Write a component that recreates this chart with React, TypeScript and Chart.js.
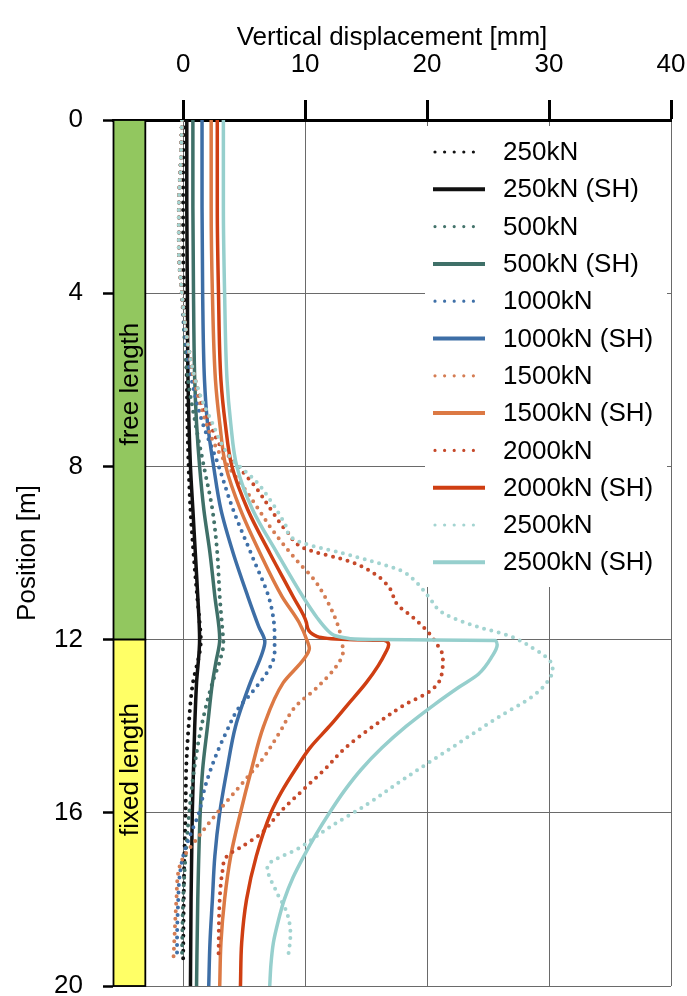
import React, { useEffect, useRef } from 'react';
import { Chart, registerables } from 'chart.js';

Chart.register(...registerables);

// ---- axis text / ticks ----
const X_TICKS = [0, 10, 20, 30, 40];
const Y_TICKS = [0, 4, 8, 12, 16, 20];
const X_TITLE = 'Vertical displacement [mm]';
const Y_TITLE = 'Position [m]';

// ---- zones along the anchor ----
const ZONE_LABELS = ['free length', 'fixed length'];
const ZONE_FROM = [0, 12];
const ZONE_TO = [12, 20];
const ZONE_TEXT_AT = [6.1, 15.0];
const ZONE_COLORS = ['#92c75f', '#ffff66'];

// ---- series: [position m, displacement mm] ----
const M250: [number, number][] = [[0,0.1],[1,0.0],[2,0.0],[3,0.0],[4,0.1],[5,0.2],[6,0.3],[7,0.35],[8,0.45],[9,0.6],[10,0.85],[11,1.15],[11.6,1.35],[12,1.45],[12.3,1.35],[13,0.8],[14,0.45],[15,0.25],[16,0.2],[17,0.1],[18,0.05],[19.4,0.0]];
const SH250: [number, number][] = [[0,0.3],[2,0.3],[4,0.35],[6,0.4],[8,0.6],[9,0.8],[10,1.0],[11,1.2],[12,1.35],[13,1.1],[14,0.95],[15,0.85],[16,0.75],[18,0.65],[20,0.6]];
const M500: [number, number][] = [[0,-0.1],[1,-0.2],[2,-0.35],[3,-0.35],[4,-0.1],[5,0.1],[6,0.4],[7,1.0],[8,1.7],[9,2.4],[10,2.8],[11,3.0],[11.7,3.2],[12.1,3.3],[12.5,3.0],[13,2.4],[14,1.5],[15,0.9],[16,0.5],[17,0.2],[18,0.0],[19.4,-0.1]];
const SH500: [number, number][] = [[0,0.8],[2,0.8],[4,0.85],[6,0.95],[7,1.1],[8,1.35],[9,1.7],[10,2.2],[11,2.6],[12,3.0],[12.5,2.7],[13,2.4],[14,2.0],[15,1.6],[16,1.4],[18,1.2],[20,1.1]];
const M1000: [number, number][] = [[0,-0.1],[1,-0.2],[2,-0.35],[3,-0.35],[4,-0.1],[5,0.2],[6,0.7],[7,1.6],[7.9,2.8],[9,4.1],[10.1,5.7],[11.1,7.1],[11.9,7.5],[12.3,7.5],[12.7,7.0],[13.2,5.7],[13.6,4.5],[14.1,3.6],[14.6,2.8],[15.4,1.8],[16,1.3],[16.5,0.6],[17,0.0],[17.5,-0.3],[18,-0.4],[19,-0.5],[19.4,-0.5]];
const SH1000: [number, number][] = [[0,1.55],[2,1.55],[4,1.6],[6,1.75],[7,2.0],[8,2.5],[9,3.1],[10,4.1],[11,5.3],[11.7,6.2],[12.05,6.7],[12.3,6.5],[13,5.5],[14,4.3],[15,3.6],[16,3.0],[17,2.6],[18,2.4],[19,2.2],[20,2.1]];
const M1500: [number, number][] = [[0,-0.1],[1,-0.2],[2,-0.35],[3,-0.35],[4,-0.1],[5,0.3],[6,0.9],[7,1.9],[7.5,2.6],[8,3.7],[8.5,5.0],[9,6.2],[9.5,7.4],[10.2,9.4],[10.6,10.7],[11.1,11.8],[11.6,12.6],[12,13.0],[12.3,13.1],[12.6,12.6],[13.1,11.0],[13.55,9.2],[14.15,7.9],[14.8,6.4],[15.2,5.2],[15.6,4.0],[16,2.8],[16.5,1.4],[17.2,-0.25],[18,-0.55],[19.4,-0.8]];
const SH1500: [number, number][] = [[0,2.3],[2,2.3],[4,2.4],[6,2.65],[7,3.0],[8,3.5],[9,4.7],[10,6.3],[11,8.1],[11.6,9.5],[12.05,10.2],[12.2,10.35],[12.45,9.9],[13,8.2],[14,6.6],[15,5.6],[16,4.7],[17,3.9],[18,3.4],[19,3.1],[20,3.0]];
const M2000: [number, number][] = [[0,-0.1],[1,-0.2],[2,-0.35],[3,-0.35],[4,-0.1],[5,0.3],[6,1.0],[6.5,1.5],[7,2.2],[7.5,3.0],[8,4.5],[8.5,6.0],[9,7.2],[9.5,8.5],[9.9,10.0],[10.2,13.7],[10.5,15.8],[10.8,16.9],[11.2,17.6],[11.5,18.9],[11.8,20.0],[12.1,20.8],[12.4,21.3],[12.9,21.1],[13.2,20.2],[13.5,18.2],[14,15.6],[14.5,13.3],[15,11.6],[15.4,10.1],[16,7.9],[16.5,6.3],[16.8,4.7],[17,3.6],[17.4,3.2],[18,3.0],[19.3,2.9]];
const SH2000: [number, number][] = [[0,2.8],[2,2.8],[4,2.9],[6,3.1],[7,3.45],[8,4.0],[9,5.3],[10,7.1],[11,9.0],[11.6,10.1],[11.93,11.0],[12.0,13.5],[12.02,16.5],[12.12,16.85],[12.3,16.6],[12.6,16.0],[13,15.0],[13.5,13.5],[14,12.0],[14.5,10.4],[15,9.2],[15.5,8.1],[16,7.2],[17,6.0],[18,5.2],[19,4.8],[20,4.7]];
const M2500: [number, number][] = [[0,-0.1],[1,-0.2],[2,-0.35],[3,-0.35],[4,-0.1],[5,0.3],[6,1.0],[6.5,1.6],[7,2.4],[7.5,3.2],[7.8,3.9],[8.35,6.0],[8.8,7.2],[9.3,8.3],[9.7,9.2],[9.85,10.8],[10.0,13.0],[10.2,15.6],[10.4,17.8],[10.7,19.2],[11.0,20.1],[11.4,21.4],[11.7,24.1],[11.9,26.6],[12.2,28.7],[12.5,30.1],[12.7,30.3],[13.0,29.8],[13.3,28.7],[13.8,25.8],[14.5,22.0],[15.2,18.2],[15.8,15.1],[16.3,12.2],[16.8,9.6],[17.25,6.9],[17.85,7.7],[18.3,8.5],[18.8,8.8],[19.35,8.6]];
const SH2500: [number, number][] = [[0,3.3],[2,3.3],[4,3.4],[6,3.6],[7,3.9],[8,4.4],[9,5.7],[10,7.7],[11,9.8],[11.5,11.0],[11.8,11.9],[11.97,13.5],[12.0,16.0],[12.02,25.6],[12.12,25.75],[12.4,25.3],[12.8,24.2],[13.1,22.6],[13.5,20.6],[14,18.3],[14.5,16.3],[15,14.6],[15.5,13.2],[16,12.0],[16.5,10.9],[17,9.9],[17.5,9.0],[18,8.3],[18.5,7.8],[19,7.4],[19.5,7.2],[20,7.1]];

const SERIES_LABELS = ['250kN', '250kN (SH)', '500kN', '500kN (SH)', '1000kN', '1000kN (SH)', '1500kN', '1500kN (SH)', '2000kN', '2000kN (SH)', '2500kN', '2500kN (SH)'];
const SERIES_DATA = [M250, SH250, M500, SH500, M1000, SH1000, M1500, SH1500, M2000, SH2000, M2500, SH2500];
const SERIES_COLORS = ['#111111', '#111111', '#43736b', '#3f7068', '#3f70a8', '#3d6ea6', '#d57d54', '#dc7944', '#c6492a', '#cf3e12', '#a3d4d1', '#96cfcd'];
const SERIES_DOTTED = [true, false, true, false, true, false, true, false, true, false, true, false];

const FONT_FAMILY = '"Liberation Sans", Arial, Helvetica, sans-serif';
const FONT_SIZE = 26;

const zonePlugin = {
  id: 'zones',
  beforeDatasetsDraw(chart: any) {
    const { ctx, chartArea, scales } = chart;
    const xs = scales.x;
    const ys = scales.y;
    const x1 = chartArea.left + 0.5;
    const x2 = xs.getPixelForValue(-3.1);
    ctx.save();
    for (let i = 0; i < ZONE_LABELS.length; i++) {
      const y1 = ys.getPixelForValue(ZONE_FROM[i]);
      const y2 = ys.getPixelForValue(ZONE_TO[i]);
      ctx.fillStyle = ZONE_COLORS[i];
      ctx.fillRect(x1, y1, x2 - x1, y2 - y1);
      ctx.strokeStyle = '#000';
      ctx.lineWidth = 1.8;
      ctx.strokeRect(x1, y1, x2 - x1, y2 - y1);
    }
    for (let i = 0; i < ZONE_LABELS.length; i++) {
      const cy = ys.getPixelForValue(ZONE_TEXT_AT[i]);
      ctx.save();
      ctx.translate((x1 + x2) / 2, cy);
      ctx.rotate(-Math.PI / 2);
      ctx.fillStyle = '#000';
      ctx.font = `${FONT_SIZE}px ${FONT_FAMILY}`;
      ctx.textAlign = 'center';
      ctx.textBaseline = 'middle';
      ctx.fillText(ZONE_LABELS[i], 0, 1);
      ctx.restore();
    }
    ctx.restore();
  },
};

const legendPlugin = {
  id: 'insideLegend',
  afterDraw(chart: any) {
    const { ctx, chartArea } = chart;
    const boxL = chartArea.right - 246;
    const boxT = chartArea.top + 6;
    const boxW = 242;
    const boxH = 461;
    ctx.save();
    ctx.fillStyle = '#ffffff';
    ctx.fillRect(boxL, boxT, boxW, boxH);
    const lineX1 = boxL + 8;
    const lineX2 = boxL + 60;
    const textX = boxL + 78;
    const row0 = chartArea.top + 32;
    const step = 37.3;
    ctx.font = `${FONT_SIZE}px ${FONT_FAMILY}`;
    ctx.textBaseline = 'middle';
    ctx.textAlign = 'left';
    chart.data.datasets.forEach((ds: any, i: number) => {
      const y = row0 + i * step;
      ctx.save();
      ctx.strokeStyle = ds.borderColor;
      ctx.beginPath();
      if (SERIES_DOTTED[i]) {
        ctx.lineWidth = 3.2;
        ctx.lineCap = 'round';
        ctx.setLineDash([0, 9.6]);
        ctx.moveTo(lineX1 + 2, y);
        ctx.lineTo(lineX2 - 6, y);
      } else {
        ctx.lineWidth = 4;
        ctx.lineCap = 'butt';
        ctx.setLineDash([]);
        ctx.moveTo(lineX1, y);
        ctx.lineTo(lineX2, y);
      }
      ctx.stroke();
      ctx.restore();
      ctx.fillStyle = '#000';
      ctx.fillText(ds.label, textX, y + 1);
    });
    ctx.restore();
  },
};

export default function App() {
  const canvasRef = useRef<HTMLCanvasElement | null>(null);

  useEffect(() => {
    const canvas = canvasRef.current;
    if (!canvas) return;
    const font = { family: FONT_FAMILY, size: FONT_SIZE, lineHeight: 1.2 };
    const datasets = SERIES_DATA.map((arr, i) => ({
      label: SERIES_LABELS[i],
      data: arr.map(([pos, disp]) => ({ x: disp, y: pos })),
      borderColor: SERIES_COLORS[i],
      backgroundColor: SERIES_COLORS[i],
      borderWidth: SERIES_DOTTED[i] ? 4 : 3.5,
      borderDash: SERIES_DOTTED[i] ? [0, 7.5] : [],
      borderCapStyle: SERIES_DOTTED[i] ? 'round' : 'butt',
      borderJoinStyle: 'round',
      pointRadius: 0,
      fill: false,
      cubicInterpolationMode: 'monotone',
      order: -i,
    }));
    const chart = new Chart(canvas, {
      type: 'line',
      data: { datasets } as any,
      options: {
        responsive: false,
        animation: false,
        devicePixelRatio: 1,
        indexAxis: 'y',
        layout: { padding: { left: 0, top: 0, right: 16, bottom: 10 } },
        plugins: { legend: { display: false }, tooltip: { enabled: false } },
        elements: { point: { radius: 0 } },
        scales: {
          x: {
            type: 'linear',
            position: 'top',
            min: -5.75,
            max: 40,
            afterBuildTicks: (s: any) => { s.ticks = X_TICKS.map((v) => ({ value: v })); },
            afterFit: (s: any) => { s.height = 120; s.paddingLeft = 0; s.paddingRight = 0; },
            grid: { color: '#6a6a6a', lineWidth: 1, tickLength: 20, tickWidth: 3, tickColor: '#000' },
            border: { display: true, color: '#000', width: 3 },
            ticks: { padding: 20, font, color: '#000', maxRotation: 0, autoSkip: false },
            title: { display: true, text: X_TITLE, font, color: '#000', padding: { top: 22, bottom: 0 } },
          },
          y: {
            type: 'linear',
            position: 'left',
            reverse: true,
            min: 0,
            max: 20,
            afterBuildTicks: (s: any) => { s.ticks = Y_TICKS.map((v) => ({ value: v })); },
            afterFit: (s: any) => { s.width = 113; s.paddingTop = 0; s.paddingBottom = 0; },
            grid: { color: '#6a6a6a', lineWidth: 1, tickLength: 10, tickWidth: 2.5, tickColor: '#000' },
            border: { display: false },
            ticks: { padding: 20, font, color: '#000', autoSkip: false },
            title: { display: true, text: Y_TITLE, font, color: '#000', padding: { top: 12, bottom: 0 } },
          },
        },
      } as any,
      plugins: [zonePlugin, legendPlugin],
    });
    return () => chart.destroy();
  }, []);

  return (
    <div style={{ position: 'absolute', left: 0, top: 0, width: 687, height: 996, background: '#fff' }}>
      <canvas ref={canvasRef} width={687} height={996} style={{ width: 687, height: 996, display: 'block' }} />
    </div>
  );
}
